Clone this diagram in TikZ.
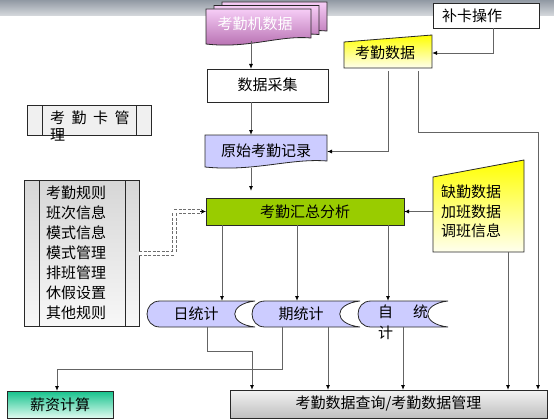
\documentclass[tikz,border=0pt]{standalone}
\usepackage{fontspec}
\newfontfamily\cjk{Noto Sans CJK SC}
\usetikzlibrary{arrows.meta}

\definecolor{lc}{RGB}{100,100,100}
\definecolor{bd}{RGB}{40,40,40}
\definecolor{lav}{RGB}{204,204,255}
\definecolor{grn}{RGB}{153,204,0}
\definecolor{pinkT}{RGB}{246,205,246}
\definecolor{pinkB}{RGB}{178,105,172}
\definecolor{yelT}{RGB}{255,255,0}
\definecolor{yelB}{RGB}{255,255,238}
\definecolor{tealT}{RGB}{20,195,140}
\definecolor{tealB}{RGB}{225,250,240}
\definecolor{bandT}{RGB}{145,153,163}
\definecolor{bandB}{RGB}{215,218,222}
\definecolor{dashc}{RGB}{110,110,110}

\newcommand\docshape[5]{%
 \path[#5] (#1,#2) -- (#3,#2) -- (#3,{#4-6}) .. controls ({#3-0.3*(#3-#1)},{#4-9}) and ({#1+0.4*(#3-#1)},{#4+5}) .. (#1,#4) -- cycle;}
\newcommand\storeshape[4]{%
 \path[stat] ({#1+13},#2) -- (#3,#2) .. controls ({#3-27},{#2+3}) and ({#3-27},{#4-3}) .. (#3,#4) -- ({#1+13},#4) .. controls ({#1-4.3},#4) and ({#1-4.3},#2) .. ({#1+13},#2) -- cycle;}

\begin{document}
\begin{tikzpicture}[x=1pt,y=-1pt,
  font=\cjk\fontsize{15}{19}\selectfont,
  conn/.style={draw=lc, line width=0.9pt, -{Latex[length=5pt,width=4pt,color=black]}},
  area/.style={inner sep=0, outer sep=0, anchor=north west},
  frame/.style={draw=bd, line width=0.8pt},
  stat/.style={frame, fill=lav},
  dbl/.style={draw=dashc, line width=1pt, double=white, double distance=3pt, dash pattern=on 3pt off 1.5pt}]
\useasboundingbox (0,0) rectangle (554,420);
\shade[top color=bandT, bottom color=bandB] (0,0) rectangle (554,16);

% named x / y positions
\coordinate (xm) at (251,0);
\coordinate (xr1) at (222,0);
\coordinate (xr2) at (297,0);
\coordinate (xr3) at (388,0);
\coordinate (xbk) at (493,0);
\coordinate (xk2) at (418,0);
\coordinate (xfar) at (538,0);
\coordinate (xq) at (508,0);
\coordinate (xd1) at (207,0);
\coordinate (xd2) at (252,0);
\coordinate (xp1) at (282,0);
\coordinate (xp2) at (328,0);
\coordinate (xzz) at (403,0);
\coordinate (xsal) at (57,0);
\coordinate (xdash) at (174,0);
\coordinate (yk) at (0,132);
\coordinate (yd) at (0,351);
\coordinate (yp) at (0,369);

% 考勤机数据 (multi document)
\docshape{222}{2}{327}{37}{frame, top color=pinkT, bottom color=pinkB}
\docshape{214}{5.5}{319}{40.5}{frame, top color=pinkT, bottom color=pinkB}
\docshape{206}{9}{311}{44}{frame, top color=pinkT, bottom color=pinkB}
\node[area, minimum width=98, minimum height=32, text=white] (kqj) at (206,9) {\raisebox{3pt}{考勤机数据}};

% 数据采集
\node[area, frame, fill=white, minimum width=121, minimum height=33] (sjcj) at (207,69) {\raisebox{3pt}{数据采集}};

% 原始考勤记录
\docshape{205}{135}{327}{167}{frame, fill=lav}
\node[area, minimum width=122, minimum height=33] (ysk) at (205,135) {\raisebox{3pt}{原始考勤记录}};

% 考勤汇总分析
\node[area, frame, fill=grn, minimum width=198, minimum height=27] (hz) at (206,198) {考勤汇总分析};

% 考勤数据 (manual input)
\path[frame, top color=yelT, bottom color=yelB] (344,42) -- (432,35) -- (432,68) -- (344,68) -- cycle;
\node[area, minimum width=82, minimum height=36] (kqsj) at (344,35) {考勤数据};

% 补卡操作
\node[area, frame, fill=white, minimum width=106, minimum height=25, inner xsep=9, text width=88, align=left] (bk) at (433,3) {补卡操作};

% 缺勤数据...
\path[frame, top color=yelT, bottom color=yelB] (433,177) -- (524,160) -- (524,252) -- (433,252) -- cycle;
\node[area, minimum width=91, minimum height=81, inner xsep=8, text width=75, align=left,
      font=\cjk\fontsize{15}{19.5}\selectfont] (qq) at (433,171) {缺勤数据\\加班数据\\调班信息};

% 考勤卡管理
\path[frame, fill=gray!12] (27,105) rectangle (151,135);
\draw[frame] (42,105) -- (42,135) (136,105) -- (136,135);
\node[anchor=north west, inner sep=0, align=left, font=\cjk\fontsize{15}{17}\selectfont] (kqk) at (50,110.5)
  {考\hspace{6.5pt}勤\hspace{6.5pt}卡\hspace{6.5pt}管\\理};

% rules box
\path[frame, top color=gray!32, bottom color=gray!6] (24,180) rectangle (139,326);
\draw[frame] (39,180) -- (39,326) (125,180) -- (125,326);
\node[area, minimum width=115, minimum height=146, inner xsep=22, text width=71, align=left,
      font=\cjk\fontsize{15}{20}\selectfont] (gz) at (24,180)
  {考勤规则\\班次信息\\模式信息\\模式管理\\排班管理\\休假设置\\其他规则};

% stat shapes
\storeshape{147}{301}{255}{327}
\storeshape{252}{301}{360}{327}
\storeshape{358}{301}{448}{327}
\node[area, minimum width=98, minimum height=26] (rtj) at (147,301) {日统计};
\node[area, minimum width=98, minimum height=26] (qtj) at (252,301) {期统计};
\node[area, minimum width=80, minimum height=26] (ztj) at (358,301) {};
\node[anchor=north west, inner sep=0, align=left, font=\cjk\fontsize{15}{21}\selectfont] (ztx) at (378,304.5) {自\hspace{20pt}统\\计};

% bottom boxes
\node[area, frame, top color=gray!10, bottom color=gray!50, minimum width=317, minimum height=28] (cx) at (230,390) {考勤数据查询/考勤数据管理};
\node[area, frame, top color=tealT, bottom color=tealB, minimum width=106, minimum height=27] (xz) at (7,391) {薪资计算};

% connectors
\draw[conn] (kqj.south -| xm) -- (sjcj.north -| xm);
\draw[conn] (sjcj.south -| xm) -- (ysk.north -| xm);
\draw[conn, shorten >=7pt] (ysk.south -| xm) -- (hz.north -| xm);
\draw[conn] (hz.south -| xr1) -- (rtj.north -| xr1);
\draw[conn] (hz.south -| xr2) -- (qtj.north -| xr2);
\draw[conn] (hz.south -| xr3) -- (ztj.north -| xr3);
\draw[conn] (bk.south -| xbk) |- (kqsj.east -| 432,0);
\draw[conn] (kqsj.south -| xr3) |- (ysk.east);
\draw[conn] (kqsj.south -| xk2) |- (xfar |- yk) -- (cx.north -| xfar);
\draw[conn] (qq.west) -- (hz.east);
\draw[conn] (qq.south -| xq) -- (cx.north -| xq);
\draw[conn] (rtj.south -| xd1) |- (xd2 |- yd) -- (cx.north -| xd2);
\draw[conn] (qtj.south -| xp1) |- (xsal |- yp) -- (xz.north -| xsal);
\draw[conn] (qtj.south -| xp2) -- (cx.north -| xp2);
\draw[conn] (ztj.south -| xzz) -- (cx.north -| xzz);

% double dashed connector
\draw[dbl] (gz.east) -| (xdash |- hz.west) -- ([xshift=-4pt]hz.west);
\draw[line width=0.6pt, -{Latex[length=4.5pt,width=4pt]}, black] ([xshift=-6pt]hz.west) -- (hz.west);
\end{tikzpicture}
\end{document}
